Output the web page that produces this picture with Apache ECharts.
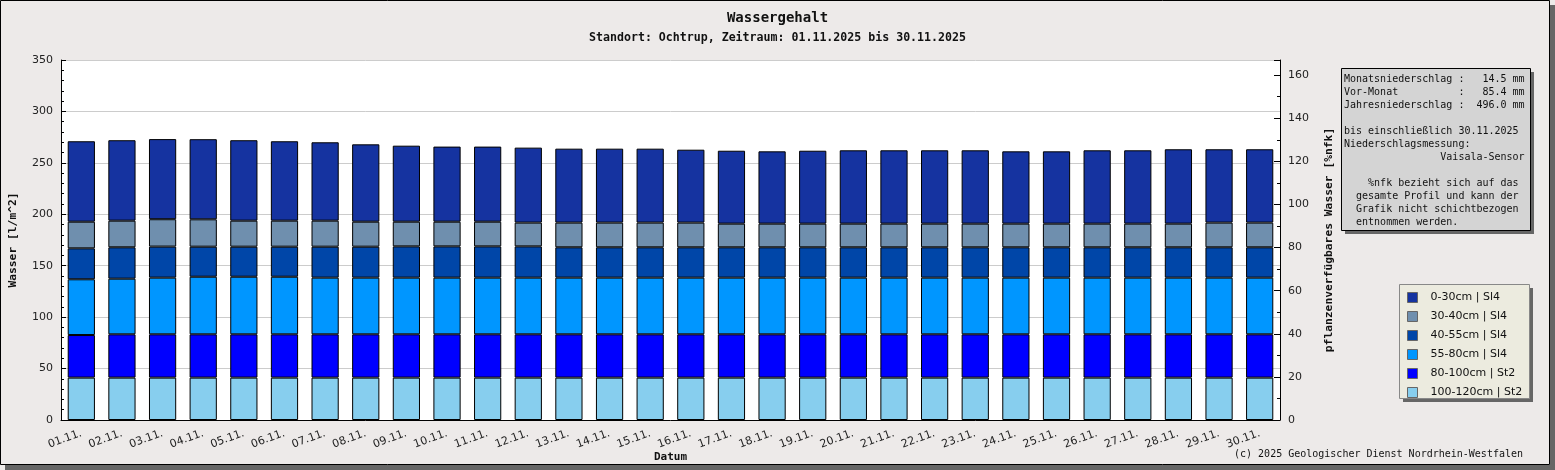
<!DOCTYPE html>
<html>
<head>
<meta charset="utf-8">
<script src="https://cdn.jsdelivr.net/npm/echarts@6/dist/echarts.min.js"></script>
<style>
html,body{margin:0;padding:0;background:#ffffff;}
#c{width:1555px;height:470px;}
</style>
</head>
<body>
<div id="c"></div>
<script>
const categories = ["01.11.","02.11.","03.11.","04.11.","05.11.","06.11.","07.11.","08.11.","09.11.","10.11.",
  "11.11.","12.11.","13.11.","14.11.","15.11.","16.11.","17.11.","18.11.","19.11.","20.11.",
  "21.11.","22.11.","23.11.","24.11.","25.11.","26.11.","27.11.","28.11.","29.11.","30.11."];

const layer100_120 = [41.2,41.2,41.2,41.2,41.2,41.2,41.2,41.2,41.2,41.2,41.2,41.2,41.2,41.2,41.2,41.2,41.2,41.2,41.2,41.2,41.2,41.2,41.2,41.2,41.2,41.2,41.2,41.2,41.2,41.2];
const layer80_100 = [41.4,42.1,42.1,42.1,42.1,42.1,42.1,42.1,42.1,42.1,42.1,42.1,42.1,42.1,42.1,42.1,42.1,42.1,42.1,42.1,42.1,42.1,42.1,42.1,42.1,42.1,42.1,42.1,42.1,42.1];
const layer55_80 = [54.2,54.1,55.1,56.0,56.0,56.0,55.1,55.1,55.1,55.1,55.1,55.1,55.1,55.1,55.1,55.1,55.1,55.1,55.1,55.1,55.1,55.1,55.1,55.1,55.1,55.1,55.1,55.1,55.1,55.1];
const layer40_55 = [30.1,30.5,30.2,29.2,29.2,29.2,30.1,30.1,30.4,30.4,30.4,30.4,29.5,29.5,29.5,29.5,29.5,29.5,29.5,29.5,29.5,29.5,29.5,29.5,29.5,29.5,29.5,29.5,29.5,29.5];
const layer30_40 = [25.9,25.9,26.6,26.6,25.3,25.3,25.3,24.3,24.0,24.0,24.0,23.1,24.0,24.0,24.0,24.0,23.0,23.0,23.0,23.0,23.0,23.0,23.0,23.0,23.0,23.0,23.0,23.0,24.0,24.0];
const layer0_30 = [78.2,78.2,77.9,77.9,78.2,77.2,76.2,75.2,73.9,73.0,73.0,72.9,71.9,71.9,71.9,70.9,70.9,70.3,70.9,71.3,71.3,71.3,71.3,70.3,70.3,71.3,71.3,72.3,71.3,71.3];

const seriesNames = ["0-30cm | Sl4","30-40cm | Sl4","40-55cm | Sl4","55-80cm | Sl4","80-100cm | St2","100-120cm | St2"];
const seriesColors = ["#1533a0","#6f8fae","#0046a8","#0096ff","#0000ff","#87ceee"];
const seriesValues = [layer0_30, layer30_40, layer40_55, layer55_80, layer80_100, layer100_120];

const leftTicks = [0,50,100,150,200,250,300,350];
const rightTicks = [0,20,40,60,80,100,120,140,160];

const infoLines = [
  "Monatsniederschlag :   14.5 mm",
  "Vor-Monat          :   85.4 mm",
  "Jahresniederschlag :  496.0 mm",
  "",
  "bis einschließlich 30.11.2025",
  "Niederschlagsmessung:",
  "                Vaisala-Sensor",
  "",
  "    %nfk bezieht sich auf das",
  "  gesamte Profil und kann der",
  "  Grafik nicht schichtbezogen",
  "  entnommen werden."
];

const mono = "DejaVu Sans Mono";
const sans = "DejaVu Sans";

// bottom layer first for stacking
const series = [];
for (let i = seriesNames.length - 1; i >= 0; i--) {
  series.push({
    name: seriesNames[i],
    type: 'bar',
    stack: 'w',
    yAxisIndex: 0,
    barCategoryGap: '33%',
    data: seriesValues[i],
    itemStyle: { color: seriesColors[i], borderColor: '#000', borderWidth: 1 },
    emphasis: { disabled: true },
    animation: false
  });
}

const graphic = [
  // panel shadow + border
  { type: 'rect', shape: { x: 1550, y: 5, width: 5, height: 465 }, style: { fill: '#666666' }, silent: true },
  { type: 'rect', shape: { x: 5, y: 465, width: 1550, height: 5 }, style: { fill: '#666666' }, silent: true },
  { type: 'rect', shape: { x: 0.5, y: 0.5, width: 1549, height: 464 }, style: { fill: 'none', stroke: '#000', lineWidth: 1 }, silent: true },
  // info box
  { type: 'rect', shape: { x: 1345, y: 72, width: 189, height: 162 }, style: { fill: '#666666' }, silent: true },
  { type: 'rect', shape: { x: 1341.5, y: 68.5, width: 189, height: 162 }, style: { fill: '#d4d4d4', stroke: '#000', lineWidth: 1 }, silent: true },
  // legend box
  { type: 'rect', shape: { x: 1403, y: 288, width: 130, height: 114 }, style: { fill: '#666666' }, silent: true },
  { type: 'rect', shape: { x: 1399.5, y: 284.5, width: 130, height: 114 }, style: { fill: '#ecebdf', stroke: '#888', lineWidth: 1 }, silent: true },
  // copyright
  { type: 'text', right: 32, top: 449, style: { text: '(c) 2025 Geologischer Dienst Nordrhein-Westfalen', font: '10px "' + mono + '"', fill: '#111' }, silent: true }
];
infoLines.forEach((t, i) => {
  if (!t) return;
  graphic.push({ type: 'text', x: 1344, y: 79.5 + i * 13, style: { text: t, font: '10px "' + mono + '"', fill: '#111', textVerticalAlign: 'middle', verticalAlign: 'middle' }, silent: true });
});

const option = {
  backgroundColor: '#edeae9',
  animation: false,
  title: [
    { text: 'Wassergehalt', left: 'center', top: 6, textStyle: { fontFamily: mono, fontSize: 14, fontWeight: 'bold', color: '#111' } },
    { text: 'Standort: Ochtrup, Zeitraum: 01.11.2025 bis 30.11.2025', left: 'center', top: 27, textStyle: { fontFamily: mono, fontSize: 11.6, fontWeight: 'bold', color: '#111' } }
  ],
  grid: { left: 61, right: 275, top: 60, bottom: 50, show: true, backgroundColor: '#ffffff', borderWidth: 0, containLabel: false, outerBoundsMode: 'none' },
  legend: {
    orient: 'vertical',
    left: 1407,
    top: 292,
    padding: 0,
    itemWidth: 10,
    itemHeight: 10,
    itemGap: 8,
    icon: 'rect',
    data: seriesNames,
    selectedMode: false,
    itemStyle: { borderColor: '#666', borderWidth: 1 },
    textStyle: { fontFamily: sans, fontSize: 11, color: '#111', padding: [0, 0, 0, 8] }
  },
  xAxis: {
    type: 'category',
    data: categories,
    boundaryGap: true,
    name: 'Datum',
    nameLocation: 'middle',
    nameGap: 32,
    nameMoveOverlap: false,
    nameTextStyle: { fontFamily: mono, fontSize: 11, fontWeight: 'bold', color: '#111' },
    axisLine: { lineStyle: { color: '#000', width: 1 } },
    axisTick: { inside: true, length: 4, lineStyle: { color: '#000' } },
    axisLabel: { rotate: 20, margin: 13, fontFamily: sans, fontSize: 11, color: '#222', interval: 0 },
    splitLine: { show: false }
  },
  yAxis: [
    {
      type: 'value',
      min: 0, max: 350, interval: 50,
      position: 'left',
      name: 'Wasser [l/m^2]',
      nameLocation: 'middle',
      nameRotate: 90,
      nameGap: 42,
      nameMoveOverlap: false,
      nameTextStyle: { fontFamily: mono, fontSize: 11.3, fontWeight: 'bold', color: '#111' },
      axisLine: { show: true, lineStyle: { color: '#000', width: 1 } },
      axisTick: { show: true, inside: true, length: 5, lineStyle: { color: '#000' } },
      minorTick: { show: true, splitNumber: 5, length: 3, lineStyle: { color: '#000' } },
      axisLabel: { fontFamily: sans, fontSize: 11, color: '#222', margin: 8,
        formatter: v => leftTicks.indexOf(v) >= 0 ? String(v) : '' },
      splitLine: { show: true, lineStyle: { color: '#cccccc', width: 1 } }
    },
    {
      type: 'value',
      min: 0, max: 167, interval: 20,
      position: 'right',
      name: 'pflanzenverfügbares Wasser [%nfk]',
      nameLocation: 'middle',
      nameRotate: 90,
      nameGap: 44,
      nameMoveOverlap: false,
      nameTextStyle: { fontFamily: mono, fontSize: 11.3, fontWeight: 'bold', color: '#111' },
      axisLine: { show: true, lineStyle: { color: '#000', width: 1 } },
      axisTick: { show: true, inside: true, length: 6, lineStyle: { color: '#000' } },
      minorTick: { show: true, splitNumber: 2, length: 3, lineStyle: { color: '#000' } },
      axisLabel: { fontFamily: sans, fontSize: 11, color: '#222', margin: 8, showMaxLabel: false,
        formatter: v => rightTicks.indexOf(v) >= 0 ? String(v) : '' },
      splitLine: { show: false }
    }
  ],
  graphic: graphic,
  series: series
};

const chart = echarts.init(document.getElementById('c'), null, { renderer: 'canvas' });
chart.setOption(option);
</script>
</body>
</html>
